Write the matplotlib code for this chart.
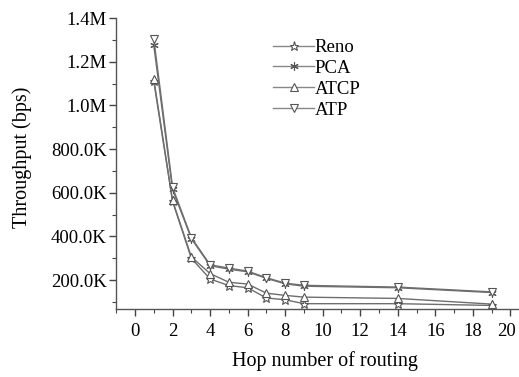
"""Throughput vs hop number of routing (Reno / PCA / ATCP / ATP)."""
import matplotlib
matplotlib.use("Agg")
import matplotlib.pyplot as plt
import matplotlib.ticker as mticker
from matplotlib.transforms import ScaledTranslation

plt.rcParams["font.family"] = ["Liberation Serif", "DejaVu Serif"]

# ---- data (throughput in K bps) ----
hops = [1, 2, 3, 4, 5, 6, 7, 8, 9, 14, 19]
reno = [1110, 560, 300, 205, 175, 165, 118, 110, 92, 92, 84]
pca = [1275, 615, 390, 266, 250, 238, 208, 183, 172, 165, 143]
atcp = [1120, 565, 306, 230, 190, 182, 140, 130, 122, 116, 90]
atp = [1305, 625, 395, 270, 255, 241, 211, 186, 176, 168, 146]

SERIES = [
    ("Reno", reno, "*", 6.5),
    ("PCA", pca, (6, 2, 0), 6),
    ("ATCP", atcp, "^", 5.5),
    ("ATP", atp, "v", 5.5),
]


def fmt_bps(v, pos):
    if v >= 1e6 - 1:
        return f"{v / 1e6:.1f}M"
    return f"{v / 1e3:.1f}K"


fig = plt.figure(figsize=(5.19, 3.77), dpi=100)
ax = fig.add_axes([0.224, 0.180, 0.775, 0.772])

for name, vals, mk, ms in SERIES:
    ax.plot(hops, [v * 1000 for v in vals], color="#6e6e6e", lw=1.0,
            marker=mk, markersize=ms, markerfacecolor="white",
            markeredgecolor="#555555", markeredgewidth=0.8, label=name)

ax.set_xlim(-1, 20.43)
ax.set_ylim(67000, 1.4e6)
ax.xaxis.set_major_locator(mticker.MultipleLocator(2))
ax.xaxis.set_minor_locator(mticker.MultipleLocator(1))
ax.yaxis.set_major_locator(mticker.FixedLocator([2e5, 4e5, 6e5, 8e5, 1e6, 1.2e6, 1.4e6]))
ax.yaxis.set_minor_locator(mticker.FixedLocator([1e5, 3e5, 5e5, 7e5, 9e5, 1.1e6, 1.3e6]))
ax.yaxis.set_major_formatter(mticker.FuncFormatter(fmt_bps))

for s in ("top", "right"):
    ax.spines[s].set_visible(False)
for s in ("left", "bottom"):
    ax.spines[s].set_color("#555555")
    ax.spines[s].set_linewidth(1.0)

ax.tick_params(axis="both", which="major", direction="out", length=5,
               width=1.0, color="#444444", labelsize=13.5, pad=2)
ax.tick_params(axis="both", which="minor", direction="out", length=3,
               width=0.8, color="#444444")
ax.tick_params(axis="x", which="major", pad=5)

ax.set_xlabel("Hop number of routing", fontsize=14.5)
ax.xaxis.set_label_coords(0.52, -0.145)
ax.set_ylabel("Throughput (bps)", fontsize=14.5)
ax.yaxis.set_label_coords(-0.21, 0.52)

leg = ax.legend(loc="upper left", bbox_to_anchor=(0.39, 0.928), frameon=False,
                fontsize=13.5, handlelength=2.2, handletextpad=0.0,
                labelspacing=0.2, borderaxespad=0, borderpad=0)
for line in leg.get_lines():
    line.set_color("#888888")

# keep the last x tick label inside the figure
fig.canvas.draw()
for lbl in ax.get_xticklabels():
    if lbl.get_text() == "20":
        lbl.set_transform(lbl.get_transform() + ScaledTranslation(-4 / 100, 0, fig.dpi_scale_trans))

fig.savefig("out.png", dpi=100)
